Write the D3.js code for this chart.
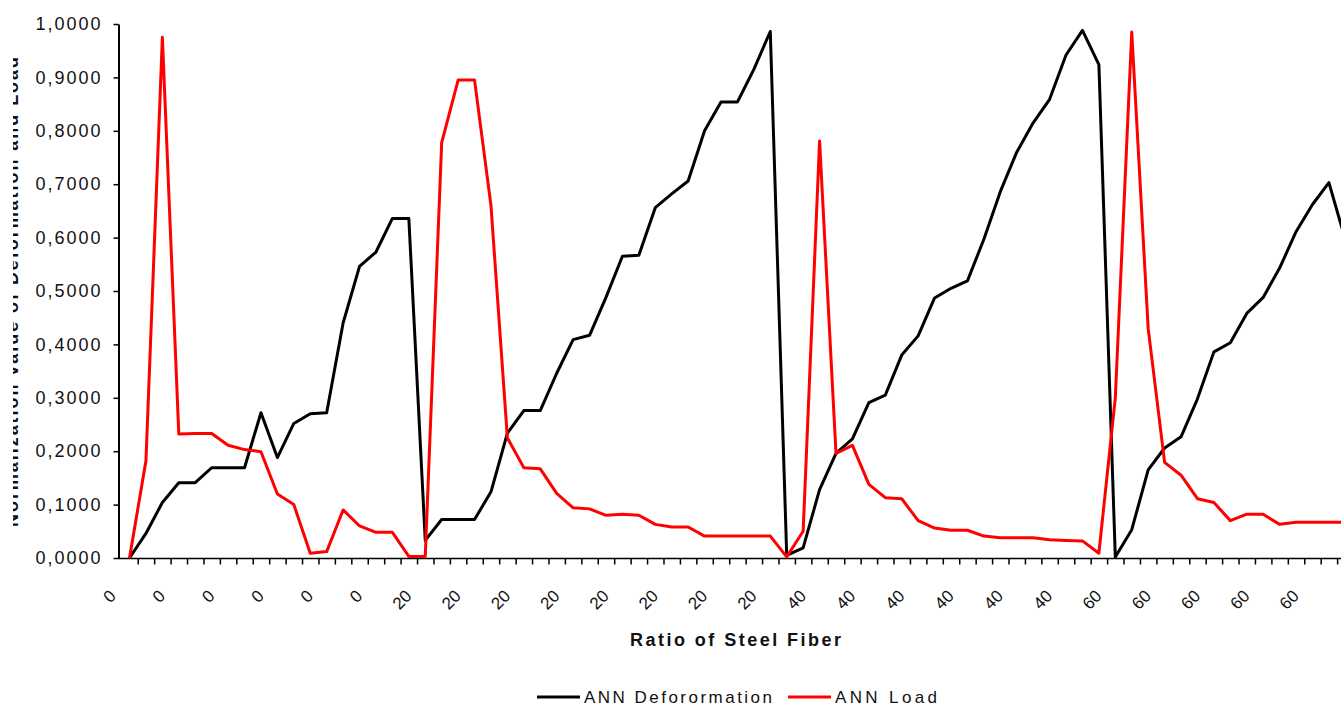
<!DOCTYPE html>
<html>
<head>
<meta charset="utf-8">
<script src="https://cdn.jsdelivr.net/npm/d3@7"></script>
<style>
  body { margin: 0; background: #fff; }
  text { font-family: "Liberation Sans", Arial, sans-serif; fill: #111; }
</style>
</head>
<body>
<script>
var width = 1341, height = 706;

// steel fiber ratio of every sample (category labels)
var ratio = [
  0,0,0,0,0,0,0,0,0,0,0,0,0,0,0,0,0,0,
  20,20,20,20,20,20,20,20,20,20,20,20,20,20,20,20,20,20,20,20,20,20,
  40,40,40,40,40,40,40,40,40,40,40,40,40,40,40,40,40,40,40,40,
  60,60,60,60,60,60,60,60,60,60,60,60,60,60,60
];

// ANN Deforormation (normalised)
var deformation = [
  0.000, 0.046, 0.104, 0.141, 0.141, 0.169, 0.169, 0.169, 0.272, 0.188,
  0.252, 0.270, 0.272, 0.440, 0.546, 0.573, 0.636, 0.636, 0.033, 0.072,
  0.072, 0.072, 0.124, 0.234, 0.276, 0.276, 0.346, 0.409, 0.417, 0.488,
  0.565, 0.567, 0.656, 0.682, 0.706, 0.800, 0.854, 0.854, 0.915, 0.986,
  0.005, 0.019, 0.128, 0.196, 0.223, 0.291, 0.305, 0.380, 0.416, 0.487,
  0.505, 0.519, 0.597, 0.686, 0.760, 0.815, 0.859, 0.942, 0.988, 0.924,
  0.002, 0.053, 0.165, 0.206, 0.227, 0.298, 0.386, 0.403, 0.458, 0.488,
  0.543, 0.611, 0.662, 0.703, 0.596
];

// ANN Load (normalised)
var load = [
  0.000, 0.182, 0.975, 0.232, 0.233, 0.233, 0.211, 0.203, 0.199, 0.120,
  0.100, 0.009, 0.012, 0.090, 0.060, 0.048, 0.048, 0.003, 0.003, 0.778,
  0.895, 0.895, 0.660, 0.225, 0.169, 0.167, 0.121, 0.094, 0.092, 0.080,
  0.082, 0.080, 0.063, 0.058, 0.058, 0.041, 0.041, 0.041, 0.041, 0.041,
  0.002, 0.050, 0.781, 0.196, 0.211, 0.138, 0.113, 0.111, 0.070, 0.056,
  0.052, 0.052, 0.041, 0.038, 0.038, 0.038, 0.034, 0.033, 0.032, 0.009,
  0.300, 0.985, 0.430, 0.179, 0.155, 0.111, 0.104, 0.070, 0.082, 0.082,
  0.063, 0.067, 0.067, 0.067, 0.067
];

var yTicks = [0, 0.1, 0.2, 0.3, 0.4, 0.5, 0.6, 0.7, 0.8, 0.9, 1.0];

var svg = d3.select("body").append("svg")
    .attr("width", width)
    .attr("height", height);

var n = load.length;
var x0 = 121.3, step = 16.43;

var x = d3.scaleBand()
    .domain(d3.range(n))
    .range([x0, x0 + step * n])
    .padding(0);

// category boundaries, for the tick marks
var xb = d3.scaleLinear().domain([0, n]).range([x0, x0 + step * n]);

var y = d3.scaleLinear().domain([0, 1]).range([558, 24]);

function cx(i) { return x(i) + x.bandwidth() / 2; }

// y axis
var yAxis = svg.append("g")
    .attr("transform", "translate(118.5,0)")
    .call(d3.axisLeft(y)
        .tickValues(yTicks)
        .tickSize(5)
        .tickSizeOuter(0)
        .tickPadding(13)
        .tickFormat(function(d) { return d3.format(".4f")(d).replace(".", ","); }));
yAxis.select(".domain").attr("stroke", "#000").attr("stroke-width", 2);
yAxis.selectAll(".tick line").attr("stroke", "#000").attr("stroke-width", 1.5);
yAxis.selectAll(".tick text")
    .style("font-size", "18px")
    .attr("textLength", 65)
    .attr("fill", "#111");

// x axis: ticks between categories
var xAxis = svg.append("g")
    .attr("transform", "translate(0,558.5)")
    .call(d3.axisBottom(xb)
        .tickValues(d3.range(1, n + 1))
        .tickSize(6)
        .tickSizeOuter(0)
        .tickFormat(""));
xAxis.select(".domain").remove();
xAxis.selectAll(".tick line").attr("stroke", "#000").attr("stroke-width", 1.5);
xAxis.append("line")
    .attr("x1", 118).attr("x2", width)
    .attr("stroke", "#000").attr("stroke-width", 1.5);

// labels on every third category
svg.append("g").selectAll("text")
    .data(d3.range(0, n, 3))
    .join("text")
    .attr("transform", function(i) { return "translate(" + (cx(i) - 12.5) + ",597) rotate(-45)"; })
    .attr("text-anchor", "end")
    .style("font-size", "17px")
    .text(function(i) { return ratio[i]; });

// lines
var line = d3.line()
    .x(function(d, i) { return cx(i); })
    .y(function(d) { return y(d); });

svg.append("path")
    .datum(deformation)
    .attr("d", line)
    .attr("fill", "none")
    .attr("stroke", "#000")
    .attr("stroke-width", 3)
    .attr("stroke-linejoin", "round");

svg.append("path")
    .datum(load)
    .attr("d", line)
    .attr("fill", "none")
    .attr("stroke", "#ff0000")
    .attr("stroke-width", 3)
    .attr("stroke-linejoin", "round");

// axis titles
svg.append("text")
    .attr("x", 630).attr("y", 646)
    .attr("textLength", 211)
    .style("font-size", "18px")
    .style("font-weight", "bold")
    .text("Ratio of Steel Fiber");

// y title is cut by the left edge in the original picture
svg.append("clipPath").attr("id", "ycut")
    .append("rect").attr("x", 13).attr("y", 0).attr("width", 30).attr("height", height);
svg.append("g")
    .attr("clip-path", "url(#ycut)")
  .append("text")
    .attr("transform", "translate(18,292) rotate(-90)")
    .attr("text-anchor", "middle")
    .attr("textLength", 470)
    .style("font-size", "18px")
    .style("font-weight", "bold")
    .text("Normalization value of Deformation and Load");

// legend
var legend = [
  { name: "ANN Deforormation", color: "#000", x: 537, len: 188 },
  { name: "ANN Load", color: "#ff0000", x: 788, len: 102 }
];
var lg = svg.append("g").selectAll("g").data(legend).join("g");
lg.append("line")
    .attr("x1", function(d) { return d.x; })
    .attr("x2", function(d) { return d.x + 43; })
    .attr("y1", 697).attr("y2", 697)
    .attr("stroke", function(d) { return d.color; })
    .attr("stroke-width", 3);
lg.append("text")
    .attr("x", function(d) { return d.x + 47; })
    .attr("y", 703)
    .attr("textLength", function(d) { return d.len; })
    .style("font-size", "17px")
    .text(function(d) { return d.name; });
</script>
</body>
</html>
